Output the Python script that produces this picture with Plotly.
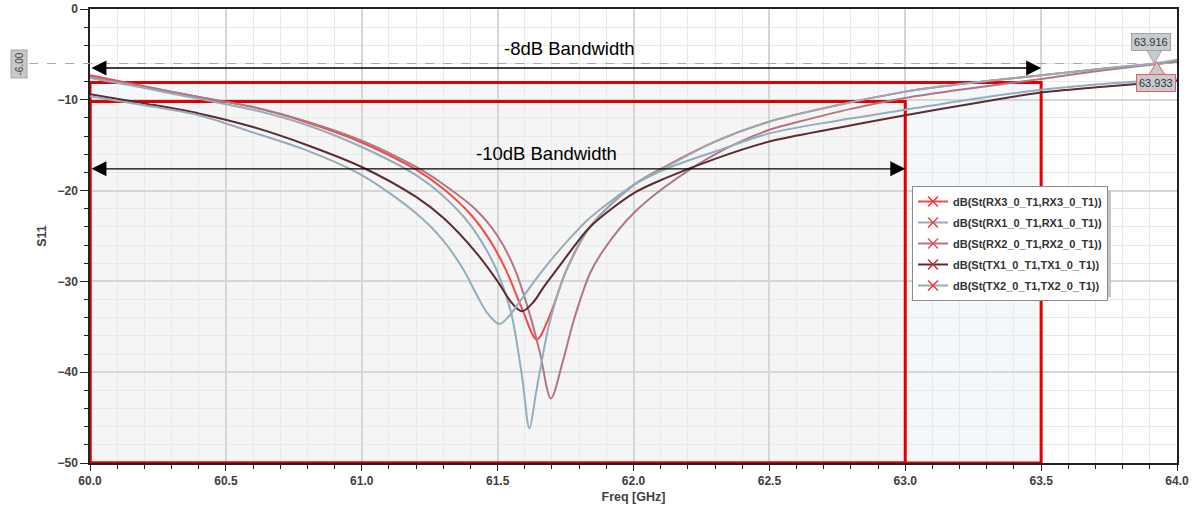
import plotly.graph_objects as go

# ---------------- data ----------------
f_rx3 = [60.0, 60.2, 60.4, 60.6, 60.8, 61.0, 61.2, 61.3, 61.4, 61.47, 61.53, 61.59, 61.644,
         61.69, 61.754, 61.84, 62.0, 62.12, 62.3, 62.5, 62.75, 63.0, 63.25, 63.5, 63.75, 63.933, 64.0]
s_rx3 = [-7.3, -8.5, -9.7, -10.8, -12.5, -14.7, -17.7, -19.8, -22.6, -25.4, -28.7, -33.0, -36.4,
         -33.9, -28.7, -24.0, -19.4, -17.3, -14.6, -12.4, -10.6, -9.1, -8.1, -7.3, -6.5, -6.0, -5.8]

f_rx1 = [60.0, 60.2, 60.4, 60.6, 60.8, 61.0, 61.2, 61.3, 61.4, 61.46, 61.5, 61.55, 61.59, 61.617,
         61.64, 61.656, 61.693, 61.754, 61.84, 62.0, 62.12, 62.3, 62.5, 62.75, 63.0, 63.25, 63.5,
         63.75, 63.916, 64.0]
s_rx1 = [-7.6, -8.7, -9.9, -11.1, -12.8, -15.2, -18.3, -20.6, -23.8, -26.6, -29.0, -33.5, -40.5, -46.2,
         -42.5, -39.8, -34.3, -28.7, -24.0, -19.4, -17.4, -14.6, -12.4, -10.6, -9.1, -8.1, -7.3,
         -6.5, -6.0, -5.6]

f_rx2 = [60.0, 60.2, 60.4, 60.6, 60.8, 61.0, 61.2, 61.3, 61.42, 61.5, 61.564, 61.62, 61.656, 61.696,
         61.74, 61.78, 61.84, 61.9, 62.0, 62.12, 62.3, 62.5, 62.61, 62.8, 63.0, 63.25, 63.5, 63.64,
         63.8, 64.0]
s_rx2 = [-7.5, -8.6, -9.7, -10.8, -12.4, -14.5, -17.4, -19.3, -22.1, -25.0, -28.7, -33.8, -37.9, -42.9,
         -38.8, -34.3, -29.1, -26.1, -22.5, -19.5, -16.0, -13.3, -12.4, -11.0, -9.8, -8.7, -7.7, -7.1,
         -6.5, -5.8]

f_tx1 = [60.0, 60.2, 60.4, 60.6, 60.8, 61.0, 61.2, 61.3, 61.42, 61.5, 61.55, 61.589, 61.631,
         61.67, 61.72, 61.78, 61.84, 62.0, 62.12, 62.3, 62.5, 62.75, 63.0, 63.25, 63.5, 63.75, 64.0]
s_tx1 = [-9.4, -10.4, -11.5, -13.0, -15.0, -17.4, -20.7, -23.0, -26.8, -30.0, -32.3, -33.3, -32.3,
         -30.6, -28.6, -26.2, -24.0, -20.3, -18.6, -16.5, -14.6, -13.1, -11.7, -10.4, -9.2, -8.5, -7.9]

f_tx2 = [60.0, 60.2, 60.4, 60.6, 60.8, 61.0, 61.2, 61.3, 61.374, 61.42, 61.46, 61.506, 61.54,
         61.58, 61.62, 61.66, 61.72, 61.78, 61.84, 62.0, 62.12, 62.3, 62.5, 62.75, 63.0, 63.25, 63.5,
         63.75, 64.0]
s_tx2 = [-9.6, -10.6, -11.7, -13.6, -15.6, -18.3, -22.5, -25.5, -28.7, -31.3, -33.4, -34.7, -33.9,
         -32.3, -30.6, -29.0, -26.8, -24.8, -23.0, -19.4, -17.6, -15.7, -13.7, -12.3, -11.1, -9.9, -8.9,
         -8.2, -7.7]

names = ["dB(St(RX3_0_T1,RX3_0_T1))", "dB(St(RX1_0_T1,RX1_0_T1))", "dB(St(RX2_0_T1,RX2_0_T1))",
         "dB(St(TX1_0_T1,TX1_0_T1))", "dB(St(TX2_0_T1,TX2_0_T1))"]
line_colors = ["#f24a4a", "#93adbc", "#b07783", "#5e2a33", "#93adbc"]
marker_colors = ["#f03c3c", "#e8474a", "#d9586a", "#c8323f", "#f03c3c"]

bw8_lo, bw8_hi, bw8_level = 60.0, 63.5, -8.1
bw10_lo, bw10_hi, bw10_level = 60.0, 63.0, -10.2
ref_level = -6.0
marker1_f, marker2_f = 63.916, 63.933
y_min, y_max = -50, 0
x_min, x_max = 60, 64

series = [(f_rx3, s_rx3), (f_rx1, s_rx1), (f_rx2, s_rx2), (f_tx1, s_tx1), (f_tx2, s_tx2)]

fig = go.Figure()

# curves (draw order: red first so others overlay it)
draw_order = [0, 2, 1, 3, 4]
for i in draw_order:
    fx, sy = series[i]
    fig.add_trace(go.Scatter(x=fx, y=sy, mode="lines", showlegend=False,
                             line=dict(color=line_colors[i], width=2, shape="spline", smoothing=0.9),
                             hoverinfo="skip"))

# legend-only entries
for i in range(5):
    fig.add_trace(go.Scatter(x=[None], y=[None], mode="lines+markers", name=names[i],
                             legendgroup=f"g{i}",
                             line=dict(color=line_colors[i], width=2),
                             marker=dict(symbol="x-thin", size=10,
                                         line=dict(width=1.6, color=marker_colors[i]))))

shapes = []
# shaded bandwidth areas
shapes.append(dict(type="rect", xref="x", yref="y", x0=bw8_lo, x1=bw8_hi, y0=y_min, y1=bw8_level,
                   fillcolor="#f4f8fa", line=dict(width=0), layer="below"))
shapes.append(dict(type="rect", xref="x", yref="y", x0=bw10_lo, x1=bw10_hi, y0=y_min, y1=bw10_level,
                   fillcolor="#f5f5f5", line=dict(width=0), layer="below"))
# red outlines
shapes.append(dict(type="rect", xref="x", yref="y", x0=bw8_lo, x1=bw8_hi, y0=y_min, y1=bw8_level,
                   line=dict(color="#e00000", width=3), layer="between"))
shapes.append(dict(type="rect", xref="x", yref="y", x0=bw10_lo, x1=bw10_hi, y0=y_min, y1=bw10_level,
                   line=dict(color="#e00000", width=3), layer="between"))
# dashed reference line at -6 dB
shapes.append(dict(type="line", xref="paper", yref="y", x0=-0.056, x1=1, y0=ref_level, y1=ref_level,
                   line=dict(color="#a8a8a8", width=1, dash="dash"), layer="above"))
# marker callout pointers
shapes.append(dict(type="path", xref="x", yref="y",
                   path=f"M {marker1_f-0.027},-4.5 L {marker1_f+0.029},-4.5 L {marker1_f},{ref_level} Z",
                   fillcolor="#c7cbcf", line=dict(color="#a0a4a8", width=1), layer="above"))
shapes.append(dict(type="path", xref="x", yref="y",
                   path=f"M {marker2_f-0.036},-7.27 L {marker2_f+0.023},-7.27 L {marker2_f-0.008},{ref_level+0.2} Z",
                   fillcolor="#c7cbcf", line=dict(color="#f05a5a", width=1), layer="above"))


def px2paper_x(px):
    return (px - 90) / 1087


def px2paper_y(py):
    return (463 - py) / 454


# legend shadow
shapes.append(dict(type="rect", xref="paper", yref="paper",
                   x0=px2paper_x(916), x1=px2paper_x(1111), y0=px2paper_y(297), y1=px2paper_y(190),
                   fillcolor="#c4c4c4", line=dict(width=0), layer="above"))

annotations = []
# bandwidth arrows
annotations.append(dict(x=bw8_hi, y=-6.5, ax=bw8_lo, ay=-6.5, xref="x", yref="y", axref="x", ayref="y",
                        text="", showarrow=True, arrowhead=2, arrowside="end+start", arrowsize=2.3,
                        arrowwidth=1.3, arrowcolor="black"))
annotations.append(dict(x=bw10_hi, y=-17.6, ax=bw10_lo, ay=-17.6, xref="x", yref="y", axref="x", ayref="y",
                        text="", showarrow=True, arrowhead=2, arrowside="end+start", arrowsize=2.3,
                        arrowwidth=1.3, arrowcolor="black"))
annotations.append(dict(x=61.766, y=-4.3, xref="x", yref="y", text="-8dB Bandwidth", showarrow=False,
                        font=dict(family="Arial", size=18.5, color="black")))
annotations.append(dict(x=61.678, y=-15.9, xref="x", yref="y", text="-10dB Bandwidth", showarrow=False,
                        font=dict(family="Arial", size=18.5, color="black")))
# -6.00 label on the left
annotations.append(dict(x=px2paper_x(19), y=ref_level, xref="paper", yref="y", xanchor="center",
                        yanchor="middle", text="-6.00", showarrow=False,
                        textangle=-90, bgcolor="#c8c8c8", bordercolor="#a8a8a8", borderwidth=1, borderpad=2,
                        font=dict(family="Arial", size=10, color="#404040")))
# marker value boxes
annotations.append(dict(x=63.904, y=-3.58, xref="x", yref="y", text=f"{marker1_f:.3f}", showarrow=False,
                        bgcolor="#c7cbcf", bordercolor="#a0a4a8", borderwidth=1, borderpad=2,
                        font=dict(family="Arial", size=11, color="#333333")))
annotations.append(dict(x=63.924, y=-8.1, xref="x", yref="y", text=f"{marker2_f:.3f}", showarrow=False,
                        bgcolor="#c7cbcf", bordercolor="#f05a5a", borderwidth=1, borderpad=2,
                        font=dict(family="Arial", size=11, color="#333333")))

tick_font = dict(family="Arial", size=12, color="#404040", weight="bold")
title_font = dict(family="Arial", size=12.5, color="#404040", weight="bold")

fig.update_layout(
    width=1201, height=513,
    margin=dict(l=90, r=24, t=9, b=50),
    paper_bgcolor="white", plot_bgcolor="white",
    shapes=shapes, annotations=annotations,
    showlegend=True,
    legend=dict(x=px2paper_x(912), y=px2paper_y(186), xanchor="left", yanchor="top",
                bgcolor="white", bordercolor="#8c8c8c", borderwidth=1,
                font=dict(family="Arial", size=11, color="#333333", weight="bold"),
                itemwidth=30, tracegroupgap=2),
    xaxis=dict(range=[x_min, x_max], dtick=0.5, tick0=60, tickformat=".1f", automargin=False,
               showline=True, linecolor="#222222", linewidth=1.5, mirror=True,
               ticks="outside", ticklen=6, tickcolor="#222222", tickwidth=1,
               showgrid=True, gridcolor="#d6d6d6", gridwidth=1.5, zeroline=False,
               tickfont=tick_font,
               minor=dict(dtick=0.1, ticks="outside", ticklen=4, tickcolor="#222222",
                          showgrid=True, gridcolor="#e9e9e9", gridwidth=1),
               title=dict(text="Freq [GHz]", font=title_font, standoff=5)),
    yaxis=dict(range=[y_min, y_max], dtick=10, tick0=0, automargin=False,
               showline=True, linecolor="#222222", linewidth=1.5, mirror=True,
               ticks="outside", ticklen=8, tickcolor="#222222", tickwidth=1,
               showgrid=True, gridcolor="#d6d6d6", gridwidth=1.5, zeroline=False,
               tickfont=tick_font,
               minor=dict(dtick=2, ticks="outside", ticklen=4, tickcolor="#222222",
                          showgrid=True, gridcolor="#e9e9e9", gridwidth=1),
               title=dict(text="S11", font=title_font, standoff=8)),
)

fig.write_html("out.html")
